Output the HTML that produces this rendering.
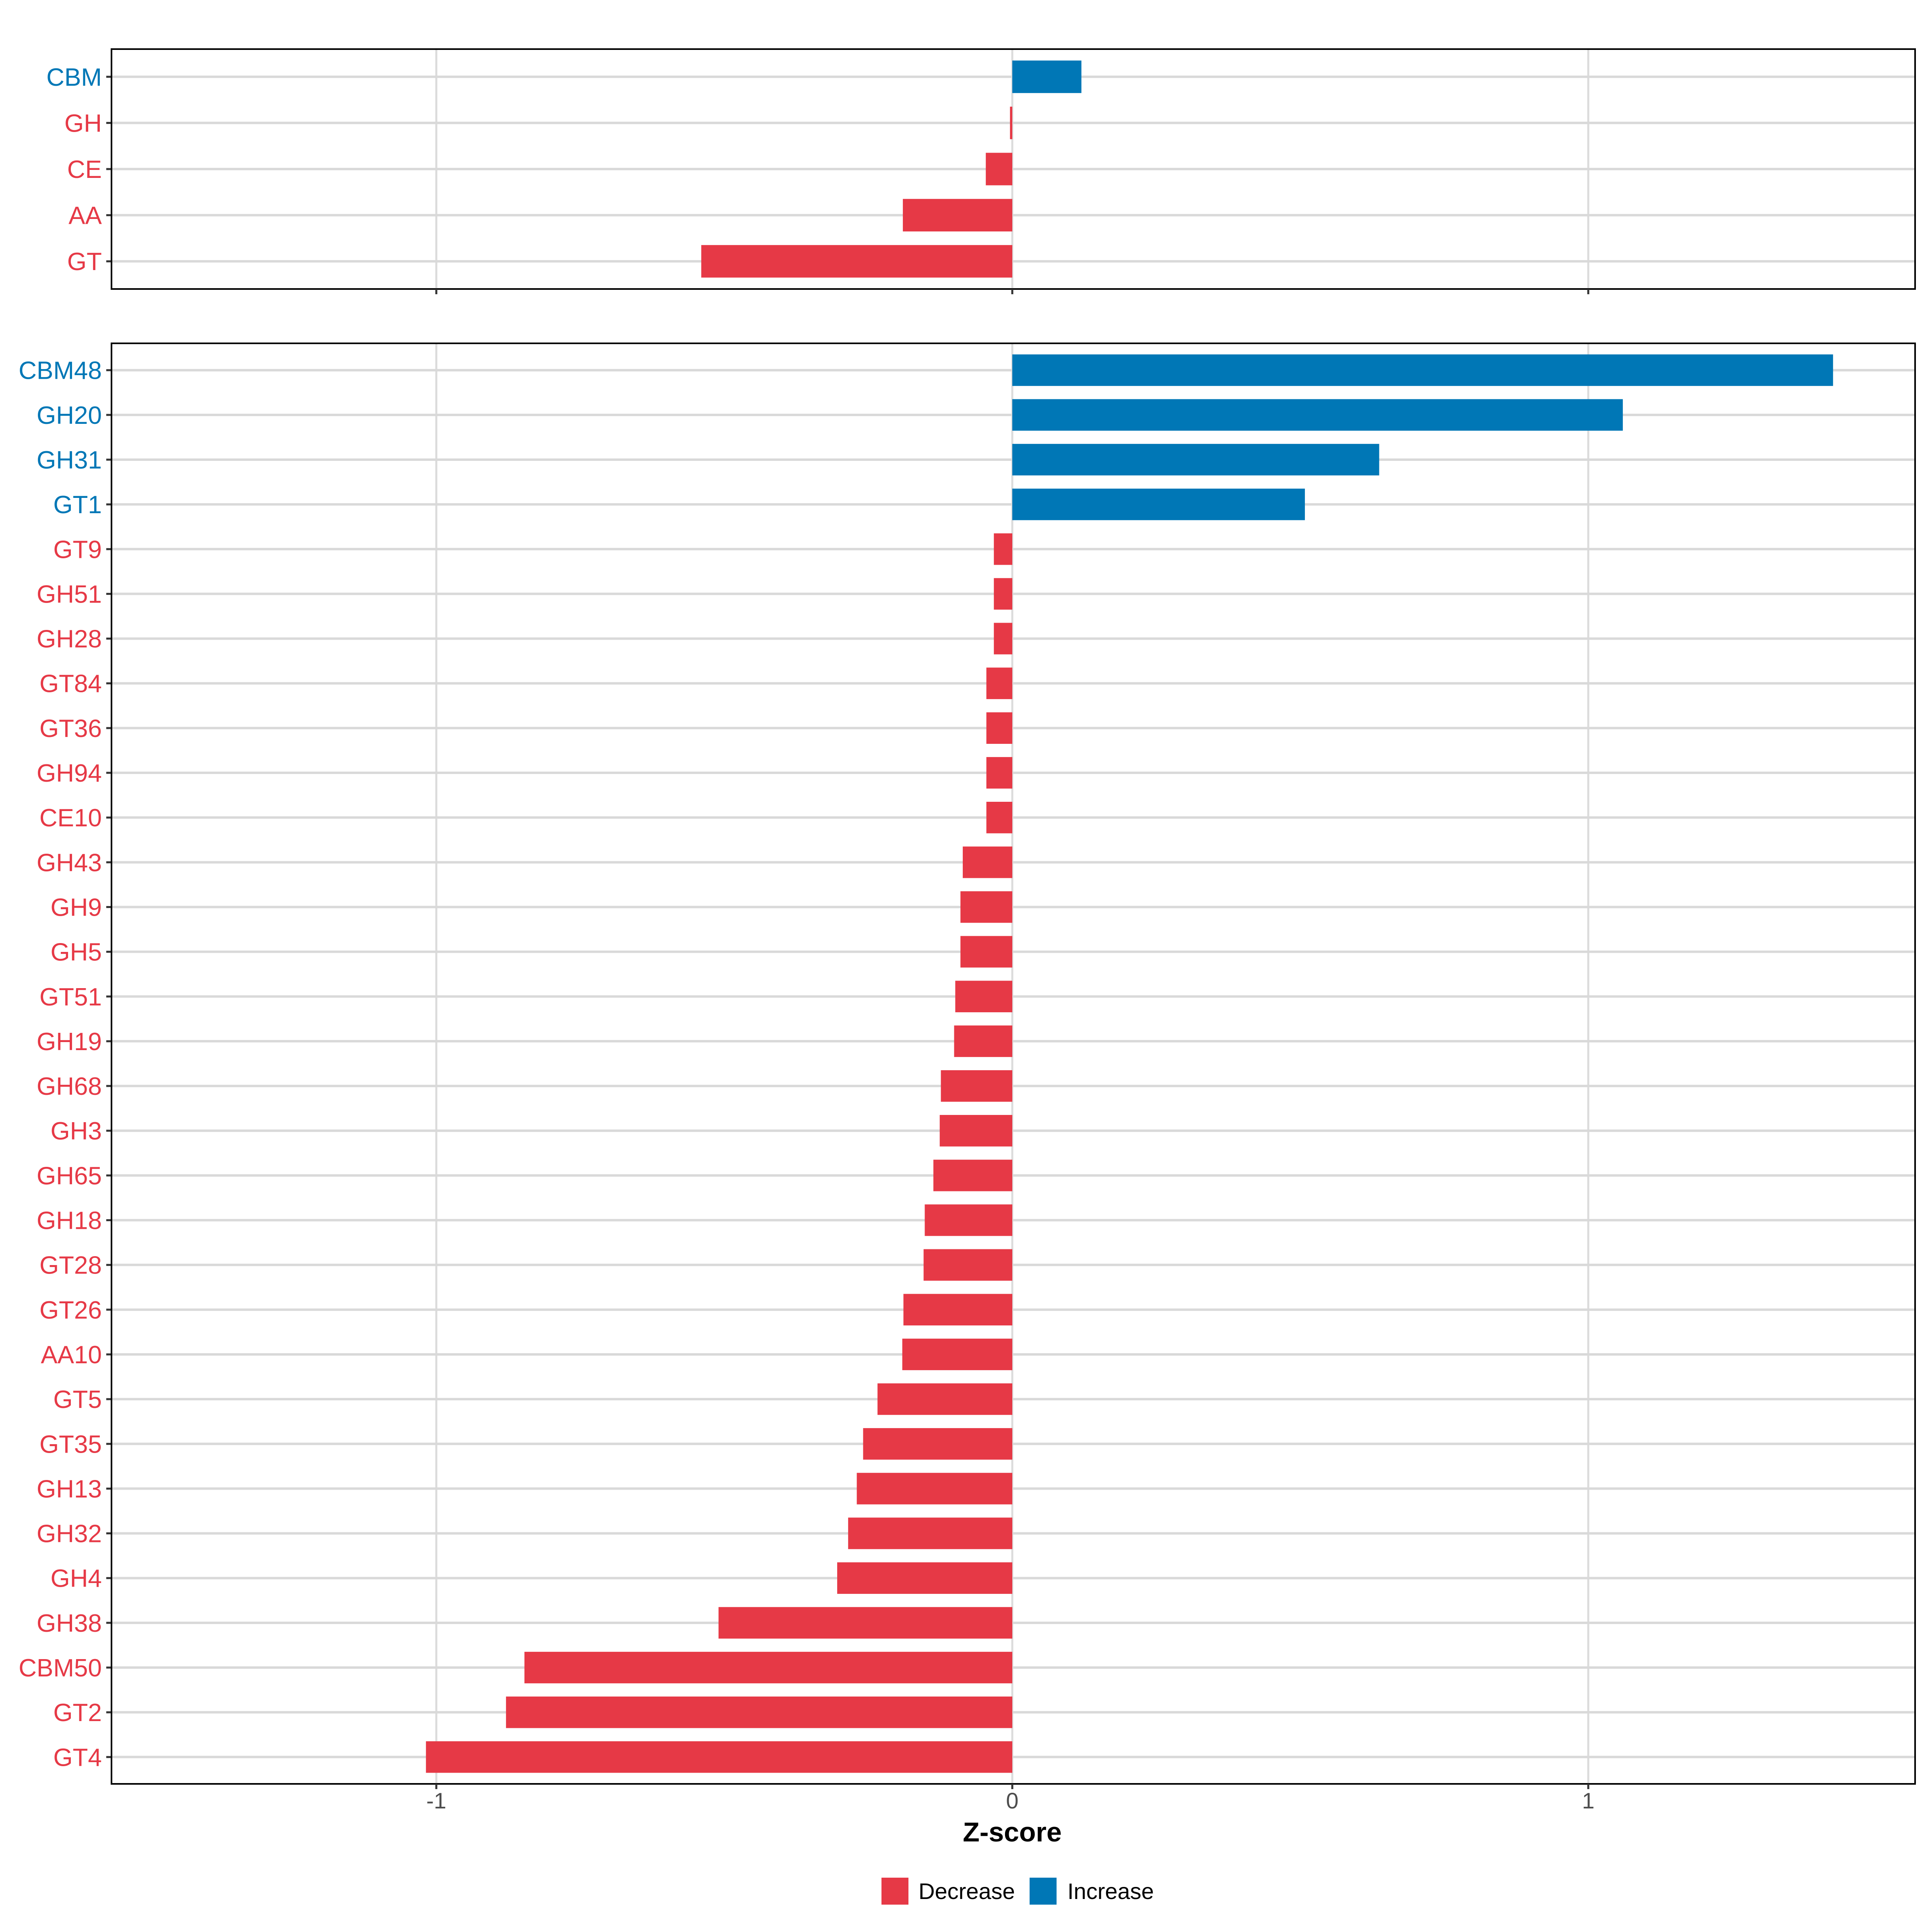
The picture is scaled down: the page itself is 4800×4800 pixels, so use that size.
<!DOCTYPE html>
<html><head><meta charset="utf-8"><style>
html,body{margin:0;padding:0;background:#fff}
svg{display:block}
text{font-family:"Liberation Sans",Arial,sans-serif}
</style></head><body>
<svg id="chart" width="4800" height="4800" viewBox="0 0 4800 4800" xmlns="http://www.w3.org/2000/svg">
<g id="top"></g>
<g id="bot"></g>
<g id="xaxis"></g>
<text x="2515" y="4575" font-size="68" font-weight="bold" text-anchor="middle" fill="#000">Z-score</text>
<g>
<rect x="2190" y="4665" width="67" height="67" fill="#E63946"/>
<text x="2282" y="4718" font-size="56" fill="#000">Decrease</text>
<rect x="2558" y="4665" width="67" height="67" fill="#0077B6"/>
<text x="2652" y="4718" font-size="56" fill="#000">Increase</text>
</g>
</svg>
<script>
const topCategories = ["CBM","GH","CE","AA","GT"];
const topValues = [0.12,-0.004,-0.046,-0.19,-0.54];
const botCategories = ["CBM48","GH20","GH31","GT1","GT9","GH51","GH28","GT84","GT36","GH94","CE10","GH43","GH9","GH5","GT51","GH19","GH68","GH3","GH65","GH18","GT28","GT26","AA10","GT5","GT35","GH13","GH32","GH4","GH38","CBM50","GT2","GT4"];
const botValues = [1.425,1.06,0.637,0.508,-0.032,-0.032,-0.032,-0.045,-0.045,-0.045,-0.045,-0.086,-0.09,-0.09,-0.099,-0.101,-0.124,-0.126,-0.137,-0.152,-0.154,-0.189,-0.191,-0.234,-0.259,-0.27,-0.285,-0.304,-0.51,-0.847,-0.879,-1.018];
const xTicks = [-1,0,1];
const xTickLabels = ["-1","0","1"];

const NS="http://www.w3.org/2000/svg";
const L=277,R=4758,X0=2515,UNIT=1431;
function xs(v){return X0+v*UNIT;}
function mk(tag,attrs,parent){const e=document.createElementNS(NS,tag);for(const k in attrs)e.setAttribute(k,attrs[k]);parent.appendChild(e);return e;}
const RED="#E63946",BLUE="#0077B6";
function panel(g,cats,vals,top,bottom,prefix){
  const n=cats.length;const step=(bottom-top)/(n-1+1.2);
  const ys=i=>top+(0.6+i)*step;
  mk('rect',{x:L,y:top,width:R-L,height:bottom-top,fill:'#fff'},g);
  xTicks.forEach(t=>{const l=mk('line',{x1:xs(t),x2:xs(t),y1:top,y2:bottom,stroke:'#dbdbdb','stroke-width':5},g);
    
    });
  cats.forEach((c,i)=>{const y=ys(i);
    const gl=mk('line',{x1:L,x2:R,y1:y,y2:y,stroke:'#d9d9d9','stroke-width':6},g);
    
    
    const tk=mk('line',{x1:L-13,x2:L,y1:y,y2:y,stroke:'#333','stroke-width':5},g);
    
    
    const col=vals[i]>=0?BLUE:RED;
    const lb=mk('text',{x:L-24,y:y+22,'font-size':62,'text-anchor':'end',fill:col},g);
    lb.textContent=c;
    
    });
  cats.forEach((c,i)=>{const y=ys(i);const v=vals[i];const h=step*0.705;
    const x1=Math.min(xs(0),xs(v)),w=Math.abs(xs(v)-xs(0));
    const b=mk('rect',{x:x1,y:y-h/2,width:Math.max(w,1),height:h,fill:v>=0?BLUE:RED},g);
    
    });
  const f=mk('rect',{x:L,y:top,width:R-L,height:bottom-top,fill:'none',stroke:'#000','stroke-width':4},g);
  
  
  xTicks.forEach(t=>{const tk=mk('line',{x1:xs(t),x2:xs(t),y1:bottom,y2:bottom+13,stroke:'#333','stroke-width':5},g);
    
    });
}
panel(document.getElementById('top'),topCategories,topValues,122,718,'top');
panel(document.getElementById('bot'),botCategories,botValues,853,4432,'bottom');
const xa=document.getElementById('xaxis');
xTicks.forEach((t,i)=>{const tx=mk('text',{x:xs(t),y:4493,'font-size':56,'text-anchor':'middle',fill:'#4d4d4d'},xa);
  tx.textContent=xTickLabels[i];
  
  });
</script>
</body></html>
